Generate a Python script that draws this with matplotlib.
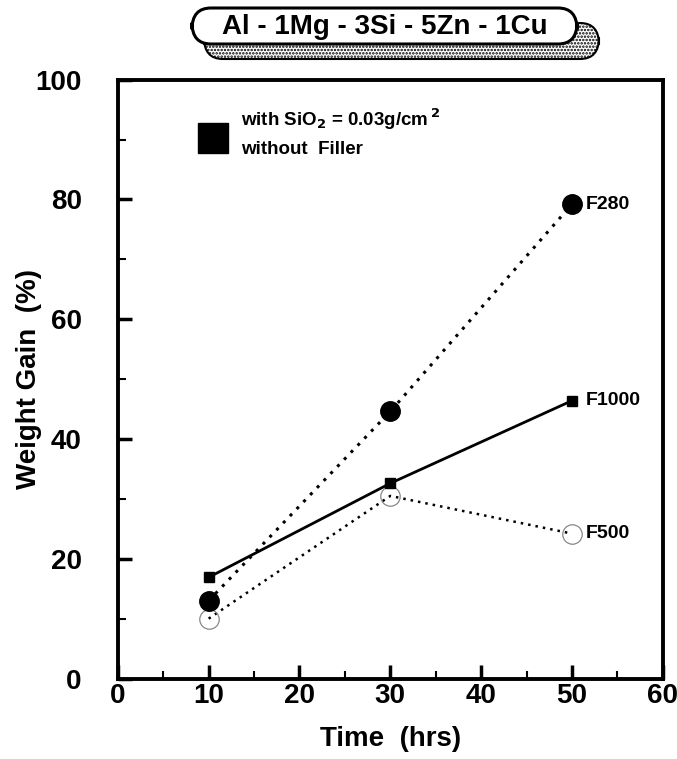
import matplotlib
matplotlib.use("Agg")
import matplotlib.pyplot as plt
from matplotlib.patches import FancyBboxPatch
from matplotlib.ticker import MultipleLocator

plt.rcParams['font.family'] = ['Liberation Sans', 'DejaVu Sans']
plt.rcParams['font.weight'] = 'bold'
plt.rcParams['hatch.linewidth'] = 1.2

# data
time_hrs = [10, 30, 50]
f280 = [13.0, 44.6, 79.2]
f1000 = [16.9, 32.6, 46.4]
f500 = [10.0, 30.5, 24.2]
series_labels = ["F280", "F1000", "F500"]
title_text = "Al - 1Mg - 3Si - 5Zn - 1Cu"
legend_lines = ["with SiO$_2$ = 0.03g/cm$^{\\,2}$", "without  Filler"]

fig = plt.figure(figsize=(6.77, 7.59), dpi=100)
ax = fig.add_axes([0.174, 0.106, 0.805, 0.789])

# curves
ax.plot(time_hrs, f280, color='black', linestyle=(0, (1, 2.2)), lw=2.2,
        marker='o', markersize=14, markerfacecolor='black', markeredgecolor='black', zorder=3)
ax.plot(time_hrs, f1000, color='black', linestyle='-', lw=2.0,
        marker='s', markersize=7, markerfacecolor='black', zorder=4)
ax.plot(time_hrs, f500, color='black', linestyle=(0, (1, 2.0)), lw=1.8, zorder=2)
ax.plot(time_hrs, f500, linestyle='none', marker='o', markersize=14,
        markerfacecolor='none', markeredgecolor='#888888', markeredgewidth=0.9, zorder=2)

# end labels
for lab, vals in zip(series_labels, [f280, f1000, f500]):
    ax.annotate(lab, (time_hrs[-1], vals[-1]), xytext=(10, 0), textcoords='offset points',
                ha='left', va='center', fontsize=14, fontweight='bold')

# legend-like note
ax.plot([10.5], [90.3], marker='s', markersize=22, color='black', linestyle='none')
ax.text(13.6, 93.4, legend_lines[0], fontsize=13.5, fontweight='bold', va='center', ha='left')
ax.text(13.6, 88.4, legend_lines[1], fontsize=13.5, fontweight='bold', va='center', ha='left')

ax.set_xlim(0, 60)
ax.set_ylim(0, 100)
ax.xaxis.set_major_locator(MultipleLocator(10))
ax.xaxis.set_minor_locator(MultipleLocator(5))
ax.yaxis.set_major_locator(MultipleLocator(20))
ax.yaxis.set_minor_locator(MultipleLocator(10))
ax.tick_params(which='both', direction='in', top=False, right=False)
ax.tick_params(which='major', length=10, width=2.5, labelsize=20)
ax.tick_params(which='minor', length=6, width=1.5)
ax.tick_params(axis='x', which='major', pad=3)
ax.tick_params(axis='y', which='major', pad=26)
for lbl in ax.get_xticklabels() + ax.get_yticklabels():
    lbl.set_fontweight('bold')
for sp in ax.spines.values():
    sp.set_linewidth(2.8)

ax.set_xlabel("Time  (hrs)", fontsize=20, fontweight='bold')
ax.set_ylabel("Weight Gain  (%)", fontsize=20, fontweight='bold')
ax.xaxis.set_label_coords(0.5, -0.079)
ax.yaxis.set_label_coords(-0.14, 0.5)

# title box with stippled shadow
bx, by, bw, bh = 192 / 677, 1 - 44 / 759, 385 / 677, 36 / 759
shadow = FancyBboxPatch((bx + 12 / 677, by - 15 / 759), bw + 10 / 677, bh, transform=fig.transFigure,
                        boxstyle="round,pad=0,rounding_size=0.028", facecolor='white',
                        edgecolor='black', hatch='.....', lw=1.5, zorder=1)
box = FancyBboxPatch((bx, by), bw, bh, transform=fig.transFigure,
                     boxstyle="round,pad=0,rounding_size=0.028", facecolor='white',
                     edgecolor='black', lw=2.2, zorder=2)
fig.patches.extend([shadow, box])
fig.text(385 / 677, 1 - 27 / 759, title_text, ha='center', va='center',
         fontsize=20, fontweight='bold', zorder=3)

fig.savefig("out.png", dpi=100)
